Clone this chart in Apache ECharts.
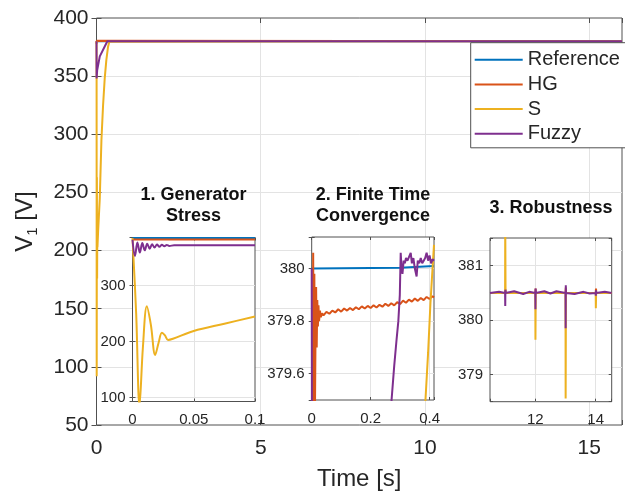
<!DOCTYPE html>
<html><head><meta charset="utf-8">
<script src="https://cdn.jsdelivr.net/npm/echarts@6/dist/echarts.min.js"></script>
<style>html,body{margin:0;padding:0;background:#fff}#c{width:625px;height:496px}</style>
</head><body><div id="c"></div>
<script>
// ---------- data ----------
const seriesNames = ['Reference', 'HG', 'S', 'Fuzzy'];
const seriesColors = ['#0072BD', '#D95319', '#EDB120', '#7E2F8E'];

// main panel
const mainXRange = [0, 16];
const mainYRange = [50, 400];
const mainXStep = 5;
const mainYStep = 50;
const mainRef = [[0, 380], [16, 380]];
const mainHG = [[0, 380], [0.004, 378], [0.008, 380.5], [0.02, 380], [16, 380]];
const mainS = [[0, 380], [0.003, 350], [0.006, 92], [0.012, 263], [0.0185, 176], [0.024, 216], [0.029, 203],
  [0.05, 217], [0.1, 245], [0.15, 295], [0.2, 325], [0.25, 348], [0.3, 364], [0.35, 375], [0.39, 379.5], [0.41, 380],
  [11, 380], [11.01, 381.5], [11.02, 380], [12, 380], [12.01, 379.6], [12.02, 380],
  [13, 380], [13.01, 378.6], [13.02, 380], [14, 380], [14.01, 380.2], [14.02, 380], [16, 380]];
const mainFuzzy = [[0, 380], [0.003, 348], [0.02, 355], [0.1, 367], [0.25, 375.5], [0.33, 380], [16, 380]];

// inset 1: generator stress
const ins1XRange = [0, 0.1];
const ins1YRange = [93, 386];
const ins1XStep = 0.05;
const ins1YStep = 100;
const ins1Ref = [[0, 385], [0.1, 385]];
const ins1HG = [[0, 382.5], [0.1, 382.5]];
const ins1S = [[0, 385], [0.003, 250], [0.0057, 85], [0.0085, 190], [0.0117, 263], [0.015, 230], [0.0185, 176],
  [0.0213, 198], [0.024, 216], [0.0265, 211], [0.029, 203], [0.033, 205], [0.05, 219], [0.075, 232], [0.1, 245]];
const ins1Fuzzy = [[0, 382], [0.002, 353], [0.004, 377], [0.006, 359], [0.008, 376], [0.010, 363], [0.012, 375],
  [0.014, 366], [0.016, 374], [0.018, 368], [0.020, 373.5], [0.022, 369.5], [0.024, 373], [0.026, 370.5],
  [0.028, 372.5], [0.030, 371], [0.034, 372], [0.1, 372]];

// inset 2: finite time convergence
const ins2XRange = [0, 0.415];
const ins2YRange = [379.5, 380.12];
const ins2XStep = 0.2;
const ins2YStep = 0.2;
const ins2Ref = [[0, 380], [0.3, 380.003], [0.415, 380.01]];
const ins2HG = [[0.003, 379.3], [0.005, 380.06], [0.007, 379.4], [0.009, 379.98], [0.011, 379.45], [0.013, 379.75],
  [0.015, 379.93], [0.017, 379.7], [0.019, 379.88], [0.021, 379.78], [0.023, 379.86], [0.025, 379.8], [0.028, 379.84],
  [0.031, 379.815], [0.035, 379.83], [0.04, 379.822], [0.05, 379.835], [0.06, 379.828], [0.07, 379.84],
  [0.08, 379.833], [0.09, 379.845], [0.1, 379.836], [0.11, 379.848], [0.12, 379.84], [0.13, 379.85],
  [0.14, 379.842], [0.15, 379.853], [0.16, 379.845], [0.17, 379.856], [0.18, 379.848], [0.19, 379.858],
  [0.2, 379.85], [0.21, 379.86], [0.22, 379.852], [0.23, 379.862], [0.24, 379.855], [0.25, 379.866],
  [0.26, 379.858], [0.27, 379.868], [0.28, 379.86], [0.29, 379.872], [0.3, 379.865], [0.31, 379.878],
  [0.32, 379.87], [0.33, 379.882], [0.34, 379.874], [0.35, 379.886], [0.36, 379.877], [0.37, 379.888],
  [0.38, 379.88], [0.39, 379.892], [0.4, 379.884], [0.41, 379.895], [0.415, 379.89]];
const ins2S = [[0.38, 379.3], [0.386, 379.5], [0.395, 379.68], [0.403, 379.87], [0.41, 380.0], [0.415, 380.09]];
const ins2Fuzzy = [[0, 380], [0.001, 379.3], [0.265, 379.3], [0.271, 379.5], [0.28, 379.63], [0.288, 379.73],
  [0.294, 379.8], [0.299, 379.9], [0.302, 380.06], [0.305, 380.0], [0.308, 379.98], [0.312, 380.03],
  [0.316, 380.02], [0.32, 380.04], [0.325, 380.03], [0.33, 380.035], [0.336, 380.06], [0.34, 380.02],
  [0.345, 380.04], [0.35, 380.0], [0.356, 379.97], [0.36, 380.03], [0.365, 380.02], [0.37, 380.04],
  [0.375, 380.02], [0.38, 380.03], [0.385, 380.04], [0.39, 380.06], [0.395, 380.03], [0.4, 380.05],
  [0.405, 380.02], [0.41, 380.035], [0.415, 380.03]];

// inset 3: robustness
const ins3XRange = [10.5, 14.53];
const ins3YRange = [378.5, 381.51];
const ins3XStep = 2;
const ins3YStep = 1;
const ins3Ref = [[10.5, 380.5], [14.53, 380.5]];
const ins3HG = [[10.5, 380.5], [11, 380.5], [11.01, 380.56], [11.02, 380.5], [12, 380.5], [12.01, 380.58],
  [12.02, 380.5], [13, 380.5], [13.01, 380.6], [13.02, 380.5], [13.6, 380.5], [13.62, 380.53], [13.64, 380.5],
  [14, 380.5], [14.01, 380.58], [14.02, 380.5], [14.53, 380.5]];
const ins3S = [[10.5, 380.5], [11, 380.5], [11.005, 381.8], [11.015, 380.5], [12, 380.5], [12.005, 379.64],
  [12.015, 380.5], [13, 380.5], [13.005, 378.56], [13.015, 380.5], [14, 380.5], [14.005, 380.22],
  [14.015, 380.5], [14.53, 380.5]];
const ins3Fuzzy = [[10.5, 380.5], [10.8, 380.52], [11, 380.5], [11.005, 380.26], [11.01, 380.56], [11.015, 380.5],
  [11.3, 380.53], [11.6, 380.48], [11.8, 380.52], [12, 380.5], [12.005, 380.2], [12.01, 380.58], [12.015, 380.5],
  [12.3, 380.53], [12.5, 380.49], [12.7, 380.53], [13, 380.5], [13.005, 379.85], [13.01, 380.64], [13.015, 380.5],
  [13.3, 380.48], [13.6, 380.52], [13.8, 380.49], [14, 380.5], [14.005, 380.45], [14.01, 380.55], [14.015, 380.5],
  [14.3, 380.52], [14.53, 380.5]];

// ---------- styling / layout ----------
const FONT = '"Liberation Sans", Arial, Helvetica, sans-serif';
const TXT = '#262626';
const FRAME = '#505050';
const GRIDC = '#e3e3e3';

const panels = [
  { grid: { left: 96.5, top: 18, width: 531, height: 409.5, z: 0, bg: 'transparent' },
    xr: mainXRange, yr: mainYRange, xs: mainXStep, ys: mainYStep, useInterval: true,
    font: 21, xMargin: 13, yMargin: 8, tick: 5, data: [mainRef, mainHG, mainS, mainFuzzy] },
  { grid: { left: 132.5, top: 237.5, width: 122.5, height: 164, z: 3, bg: '#fff' },
    xr: ins1XRange, yr: ins1YRange, xs: ins1XStep, ys: ins1YStep, xSplit: 2, ySplit: 3,
    font: 15, xMargin: 11, yMargin: 7, tick: 3, data: [ins1Ref, ins1HG, ins1S, ins1Fuzzy], smooth: true },
  { grid: { left: 311.7, top: 237, width: 122.3, height: 163, z: 3, bg: '#fff' },
    xr: ins2XRange, yr: ins2YRange, xs: ins2XStep, ys: ins2YStep, xSplit: 2, ySplit: 3,
    font: 15, xMargin: 11, yMargin: 7, tick: 3, data: [ins2Ref, ins2HG, ins2S, ins2Fuzzy] },
  { grid: { left: 490, top: 238, width: 121.7, height: 163.7, z: 3, bg: '#fff' },
    xr: ins3XRange, yr: ins3YRange, xs: ins3XStep, ys: ins3YStep, xSplit: 2, ySplit: 3,
    font: 15, xMargin: 11, yMargin: 7, tick: 3, data: [ins3Ref, ins3HG, ins3S, ins3Fuzzy] }
];

function niceFmt(step) {
  return function (v) {
    const r = v / step;
    if (Math.abs(r - Math.round(r)) > 1e-6) return '';
    return String(+v.toFixed(4));
  };
}

const grids = [], xAxes = [], yAxes = [], series = [];
panels.forEach((p, gi) => {
  const g = p.grid;
  grids.push({ left: g.left, top: g.top, width: g.width, height: g.height, show: true,
    backgroundColor: g.bg, borderColor: FRAME, borderWidth: 1, z: g.z, containLabel: false });
  const az = g.z === 0 ? 0 : 4;
  const common = (range, step, split) => {
    const o = { type: 'value', gridIndex: gi, min: range[0], max: range[1], z: az, scale: true };
    if (p.useInterval) o.interval = step; else o.splitNumber = split;
    return o;
  };
  const tickStyle = { show: true, inside: true, length: p.tick, lineStyle: { color: FRAME, width: 1 } };
  xAxes.push(Object.assign(common(p.xr, p.xs, p.xSplit), {
    position: 'bottom',
    axisLine: { show: false }, axisTick: tickStyle,
    axisLabel: { show: true, fontSize: p.font, fontFamily: FONT, color: TXT, margin: p.xMargin, formatter: niceFmt(p.xs), hideOverlap: false },
    splitLine: { show: true, showMinLine: false, showMaxLine: false, lineStyle: { color: GRIDC, width: 1 } },
    name: gi === 0 ? 'Time [s]' : '', nameLocation: 'middle', nameGap: 42,
    nameTextStyle: { fontSize: 24, fontFamily: FONT, color: TXT }
  }));
  xAxes.push(Object.assign(common(p.xr, p.xs, p.xSplit), {
    position: 'top', axisLine: { show: false }, axisTick: tickStyle,
    axisLabel: { show: false }, splitLine: { show: false }
  }));
  yAxes.push(Object.assign(common(p.yr, p.ys, p.ySplit), {
    position: 'left',
    axisLine: { show: false }, axisTick: tickStyle,
    axisLabel: { show: true, fontSize: p.font, fontFamily: FONT, color: TXT, margin: p.yMargin, formatter: niceFmt(p.ys), hideOverlap: false },
    splitLine: { show: true, showMinLine: false, showMaxLine: false, lineStyle: { color: GRIDC, width: 1 } },
    name: gi === 0 ? '{v|V}{s|1}{v| [V]}' : '', nameLocation: 'middle', nameGap: 56, nameRotate: 90,
    nameTextStyle: { fontFamily: FONT, color: TXT,
      rich: { v: { fontSize: 24, fontFamily: FONT, color: TXT, lineHeight: 30 },
              s: { fontSize: 15, fontFamily: FONT, color: TXT, lineHeight: 15, verticalAlign: 'bottom' } } }
  }));
  yAxes.push(Object.assign(common(p.yr, p.ys, p.ySplit), {
    position: 'right', axisLine: { show: false }, axisTick: tickStyle,
    axisLabel: { show: false }, splitLine: { show: false }
  }));
  p.data.forEach((d, si) => {
    series.push({
      type: 'line', name: seriesNames[si], xAxisIndex: 2 * gi, yAxisIndex: 2 * gi,
      data: d, showSymbol: false, symbol: 'none', clip: true,
      smooth: p.smooth && (si === 2 || si === 3) ? 0.35 : false,
      lineStyle: { color: seriesColors[si], width: 2 }, itemStyle: { color: seriesColors[si] },
      z: g.z === 0 ? 2 : 5, animation: false
    });
  });
});

const titleFont = 'bold 18px "Liberation Sans", Arial, Helvetica, sans-serif';
const option = {
  animation: false,
  backgroundColor: '#fff',
  grid: grids, xAxis: xAxes, yAxis: yAxes, series: series,
  legend: {
    data: seriesNames, orient: 'vertical', left: 470.7, top: 42.7, align: 'left',
    icon: 'rect', itemWidth: 48, itemHeight: 2, itemGap: 4.7, padding: [7, 14, 4, 4],
    backgroundColor: '#fff', borderColor: FRAME, borderWidth: 1, borderRadius: 0,
    selectedMode: false, z: 10,
    textStyle: { fontSize: 20, fontFamily: FONT, color: TXT }
  },
  graphic: [
    { type: 'text', x: 193.5, y: 206, z: 20, style: { text: '1. Generator\nStress', font: titleFont, fill: '#111', align: 'center', verticalAlign: 'middle', lineHeight: 21 } },
    { type: 'text', x: 373, y: 206, z: 20, style: { text: '2. Finite Time\nConvergence', font: titleFont, fill: '#111', align: 'center', verticalAlign: 'middle', lineHeight: 21 } },
    { type: 'text', x: 551, y: 208, z: 20, style: { text: '3. Robustness', font: titleFont, fill: '#111', align: 'center', verticalAlign: 'middle' } }
  ]
};
const chart = echarts.init(document.getElementById('c'), null, { renderer: 'canvas' });
chart.setOption(option);
</script>
</body></html>
